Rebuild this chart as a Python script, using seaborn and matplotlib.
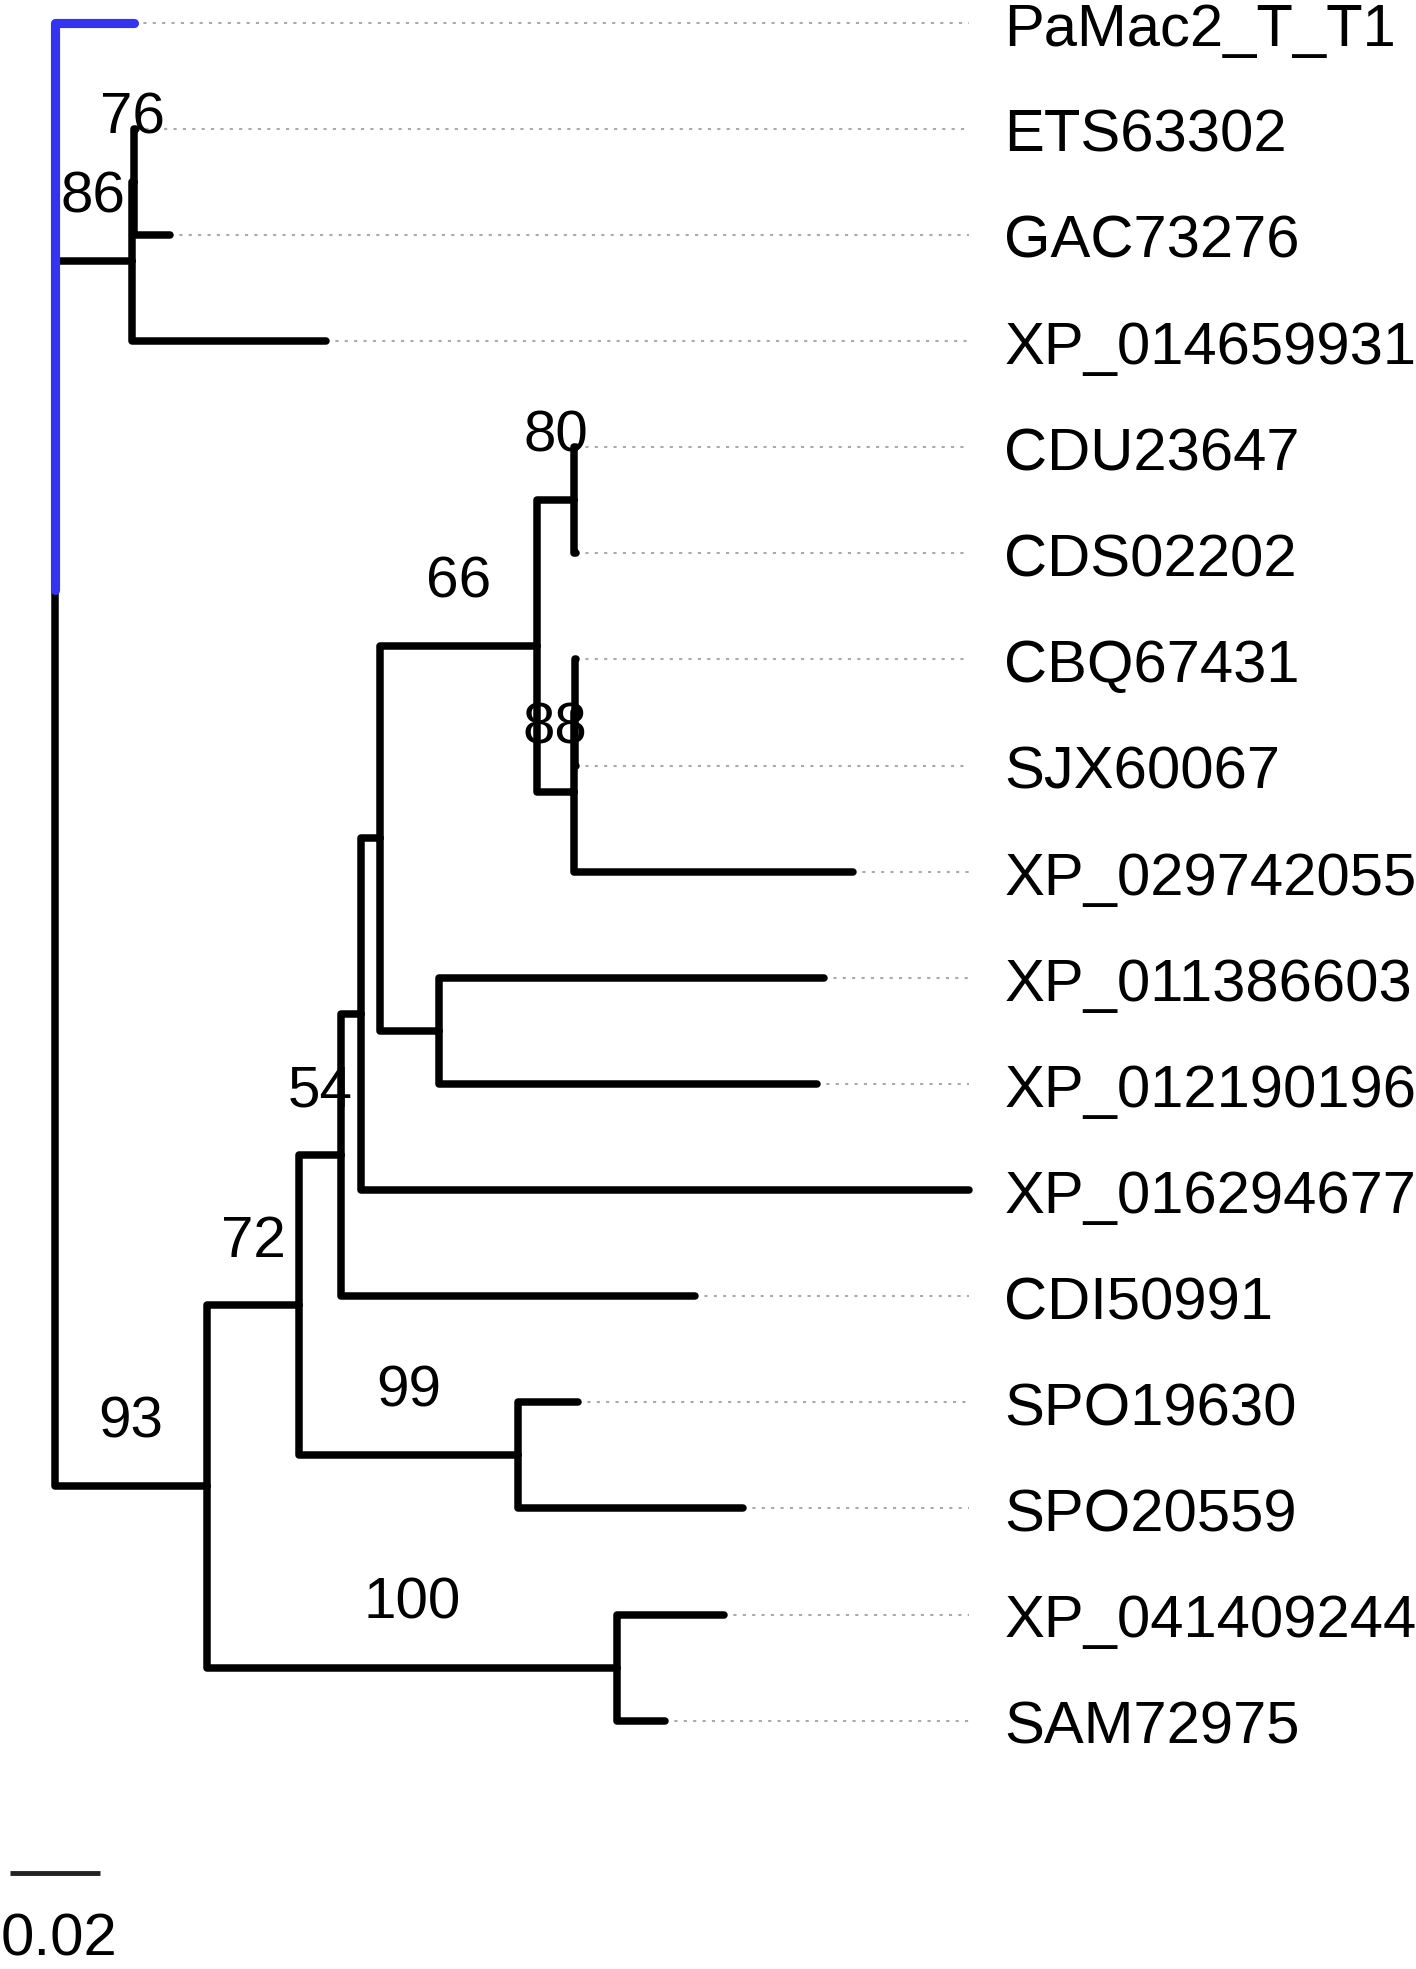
import numpy as np
import pandas as pd
import matplotlib
matplotlib.use('Agg')
import matplotlib.pyplot as plt
import seaborn as sns

# Leaves, top to bottom
leaves = ['PaMac2_T_T1', 'ETS63302', 'GAC73276', 'XP_014659931', 'CDU23647',
          'CDS02202', 'CBQ67431', 'SJX60067', 'XP_029742055', 'XP_011386603',
          'XP_012190196', 'XP_016294677', 'CDI50991', 'SPO19630', 'SPO20559',
          'XP_041409244', 'SAM72975']

# Tree edges (parent listed before its children), branch lengths
edge_parent = ['root', 'root', 'A', 'EG', 'EG', 'A', 'root',
               'B', 'B', 'D', 'D', 'C', 'F', 'F', 'C', 'E', 'E', 'G', 'G',
               'H', 'J', 'J', 'H', 'I', 'K', 'K', 'I', 'L', 'M', 'M', 'L']
edge_child = ['PaMac2_T_T1', 'A', 'EG', 'ETS63302', 'GAC73276', 'XP_014659931', 'B',
              'C', 'D', 'XP_041409244', 'SAM72975', 'F', 'SPO19630', 'SPO20559', 'E',
              'CDI50991', 'G', 'XP_016294677', 'H',
              'J', 'XP_011386603', 'XP_012190196', 'I', 'K', 'CDU23647', 'CDS02202',
              'L', 'M', 'CBQ67431', 'SJX60067', 'XP_029742055']
edge_length = [0.0175, 0.0169, 0.0006, 0.0003, 0.0078, 0.0431, 0.0336,
               0.0203, 0.0908, 0.0236, 0.0106, 0.0486, 0.0131, 0.0497, 0.0094,
               0.0783, 0.0044, 0.1344, 0.0042,
               0.0131, 0.0850, 0.0836, 0.0347, 0.0083, 0.0003, 0.0003,
               0.0081, 0.0003, 0.0003, 0.0003, 0.0619]

# Bootstrap support
support_nodes = ['A', 'EG', 'B', 'C', 'D', 'F', 'E', 'I', 'K', 'L']
support_values = ['86', '76', '93', '72', '100', '99', '54', '66', '80', '88']

scale_length = 0.02

# node positions
xpos = {'root': 0.0}
for p, c, l in zip(edge_parent, edge_child, edge_length):
    xpos[c] = xpos[p] + l
ypos = {name: i for i, name in enumerate(leaves)}
kids = {}
for p, c in zip(edge_parent, edge_child):
    kids.setdefault(p, []).append(c)
for p in reversed(list(dict.fromkeys(edge_parent))):
    ypos[p] = np.mean([ypos[c] for c in kids[p]])

rows = []
for i, (p, c) in enumerate(zip(edge_parent, edge_child)):
    kind = 'blue' if c == 'PaMac2_T_T1' else 'black'
    for x, y in [(xpos[p], ypos[p]), (xpos[p], ypos[c]), (xpos[c], ypos[c])]:
        rows.append({'x': x, 'y': y, 'seg': i, 'kind': kind})
seg_df = pd.DataFrame(rows)

sns.set_style('white')
plt.rcParams['font.family'] = ['Liberation Sans', 'DejaVu Sans']
plt.rcParams['text.color'] = 'black'

fig = plt.figure(figsize=(14.16, 19.69), dpi=100)
ax = fig.add_axes([0, 0, 1, 1])

label_x = 0.21
dots_end = 0.2022
for name in leaves:
    ax.hlines(ypos[name], xpos[name], dots_end, color='#aaaaaa', lw=1.5,
              linestyles=(0, (1.5, 3)), zorder=1)
    ax.text(label_x, ypos[name] + 0.07, name, fontsize=43, va='center', ha='left',
            color='black')

sns.lineplot(data=seg_df, x='x', y='y', units='seg', estimator=None, sort=False,
             hue='kind', hue_order=['black', 'blue'],
             palette={'black': 'black', 'blue': '#3434f0'},
             size='kind', sizes={'black': 5.4, 'blue': 6.6},
             legend=False, ax=ax, zorder=3)

parent_of = dict(zip(edge_child, edge_parent))
for n, v in zip(support_nodes, support_values):
    mx = (xpos[n] + xpos[parent_of[n]]) / 2
    ax.text(mx, ypos[n] - 0.6, v, fontsize=42, ha='center', va='center', zorder=4,
            color='black')

# scale bar
ax.hlines(17.44, -0.01, -0.01 + scale_length, color='#222222', lw=3.5)
ax.text(0.0008, 18.07, '0.02', fontsize=43, ha='center', va='center', color='black')

ax.set_xlim(-0.01222, 0.3011)
ax.set_ylim(18.34, -0.213)
ax.axis('off')

fig.savefig('out.png', dpi=100, facecolor='white')
